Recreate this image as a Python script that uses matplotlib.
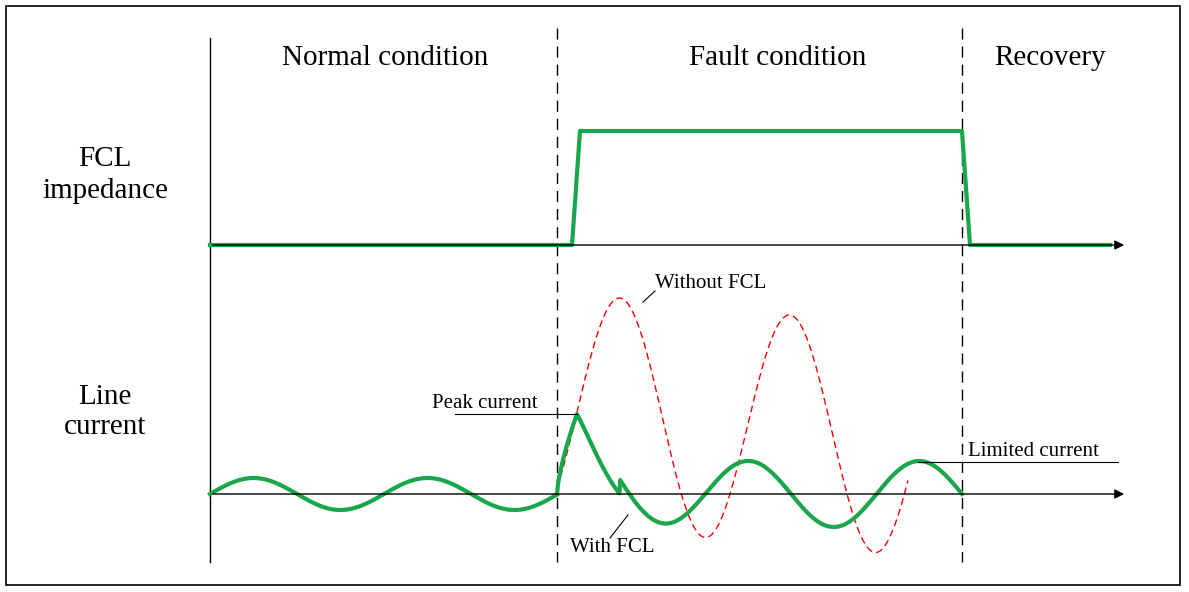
import numpy as np
import matplotlib.pyplot as plt

# schematic parameters (pixel-like units)
normal_range = [210, 557]
normal_amp = 16
normal_period = 174
fcl_amp = 33
fcl_period = 171
nofcl_amp = [116, 115]
nofcl_center = [414, 430]
nofcl_period = 170
impedance_low, impedance_high = 245, 131
phase_labels = ["Normal condition", "Fault condition", "Recovery"]
row_labels = ["FCL\nimpedance", "Line\ncurrent"]

fig = plt.figure(figsize=(11.89, 5.92), dpi=100)
ax = fig.add_axes([0, 0, 1, 1])
ax.set_xlim(0, 1189); ax.set_ylim(592, 0); ax.axis('off')
green = '#1aa64a'
ser = 'Liberation Serif'

ax.add_patch(plt.Rectangle((6, 6), 1174, 579, fill=False, lw=1.2, ec='black'))
ax.plot([210, 210], [38, 562], color='black', lw=1)
for x in (557, 962):
    ax.plot([x, x], [28, 562], color='black', lw=1, ls=(0, (8, 5)))
for y in (245, 494):
    ax.annotate('', xy=(1127, y), xytext=(210, y),
                arrowprops=dict(arrowstyle='-|>', color='black', lw=1, mutation_scale=14))

# impedance
ax.plot([210, 572, 580, 962, 970, 1110],
        [impedance_low, impedance_low, impedance_high, impedance_high, impedance_low, impedance_low],
        color=green, lw=3)

# normal current
x = np.linspace(normal_range[0], normal_range[1], 300)
ax.plot(x, 494 - normal_amp * np.sin(2*np.pi*(x-210)/normal_period), color=green, lw=3)

# without FCL
x = np.linspace(557, 908, 400)
c = nofcl_center[0] + (nofcl_center[1]-nofcl_center[0])*(x-620)/170
A = nofcl_amp[0] + (nofcl_amp[1]-nofcl_amp[0])*(x-620)/170
ax.plot(x, c - A*np.cos(2*np.pi*(x-620)/nofcl_period), color='red', lw=1, ls=(0, (5, 3)))

# with FCL
x1 = np.linspace(557, 577, 20)
y1 = 494 - 80*((x1-557)/20)**0.7
x2 = np.linspace(577, 962, 500)
base = 494 + fcl_amp*np.sin(2*np.pi*(x2-620)/fcl_period)
w = np.exp(-(x2-577)/25)
y2 = base*(1-w) + 414*w
mask = x2 < 620
y2[mask] = (414 + (x2[mask]-577)*1.9)*(1-((x2[mask]-577)/43)**2) + base[mask]*((x2[mask]-577)/43)**2
ax.plot(np.concatenate([x1, x2]), np.concatenate([y1, y2]), color=green, lw=3)

for t, xx in zip(phase_labels, (385, 778, 1050)):
    ax.text(xx, 58, t, fontsize=21, family=ser, ha='center', va='center')
for t, yy in zip(row_labels, (175, 412)):
    ax.text(105, yy, t, fontsize=21, family=ser, ha='center', va='center', linespacing=1.25)

fs = 15
ax.text(655, 283, 'Without FCL', fontsize=fs, family=ser, va='center')
ax.plot([655, 643], [291, 302], color='black', lw=0.8)
ax.text(432, 404, 'Peak current', fontsize=fs, family=ser, va='center')
ax.plot([455, 577], [414, 414], color='black', lw=0.8)
ax.text(968, 452, 'Limited current', fontsize=fs, family=ser, va='center')
ax.plot([918, 1118], [462, 462], color='black', lw=0.8)
ax.text(570, 548, 'With FCL', fontsize=fs, family=ser, va='center')
ax.plot([628, 610], [515, 538], color='black', lw=0.8)

fig.savefig('out.png', dpi=100)
